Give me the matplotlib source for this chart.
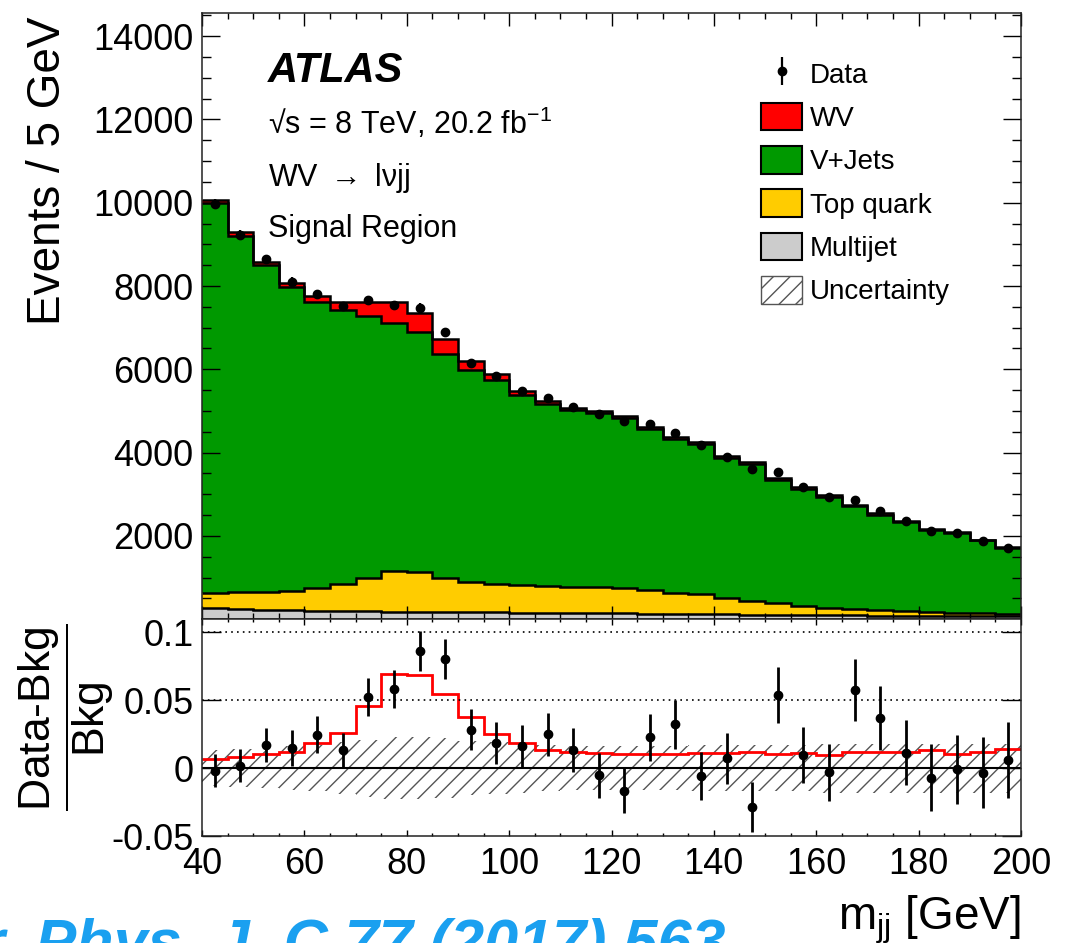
import matplotlib
matplotlib.use("Agg")
import matplotlib.pyplot as plt
import numpy as np
from matplotlib.patches import Patch
from matplotlib.ticker import MultipleLocator

plt.rcParams["font.family"] = ["Liberation Sans", "DejaVu Sans"]
plt.rcParams["mathtext.fontset"] = "custom"
plt.rcParams["mathtext.rm"] = "Liberation Sans"
plt.rcParams["mathtext.it"] = "Liberation Sans:italic"
plt.rcParams["mathtext.bf"] = "Liberation Sans:bold"
plt.rcParams["hatch.linewidth"] = 1.0

# m_jj bins, 5 GeV wide
edges = np.arange(40, 205, 5)

# total background (top of V+Jets) per bin
bkg = [9995, 9210, 8494, 7981, 7619, 7421, 7282, 7121, 6886, 6372, 5972, 5743,
       5380, 5179, 5017, 4945, 4829, 4574, 4334, 4202, 3872, 3719, 3347, 3137,
       2947, 2712, 2513, 2334, 2138, 2078, 1893, 1704]
top_quark = [373, 415, 437, 474, 539, 656, 806, 980, 960, 808, 716, 682, 663, 644,
             633, 622, 618, 574, 510, 474, 400, 332, 274, 221, 179, 150, 133, 113,
             83, 72, 66, 55]
multijet = [265, 240, 225, 212, 205, 198, 192, 186, 182, 176, 172, 165, 160, 155,
            150, 146, 142, 136, 130, 126, 120, 114, 110, 104, 100, 95, 90, 86, 82,
            78, 74, 70]

# ratio panel: (Data-Bkg)/Bkg, its error, WV/Bkg and bkg uncertainty
ratio_data = [-0.0018, 0.0019, 0.0169, 0.0149, 0.0247, 0.0130, 0.0527, 0.0585,
              0.0862, 0.0804, 0.0284, 0.0184, 0.0164, 0.0250, 0.0134, -0.0054,
              -0.0165, 0.0228, 0.0323, -0.0057, 0.0071, -0.0287, 0.0539, 0.0096,
              -0.0032, 0.0574, 0.0372, 0.0113, -0.0071, -0.0010, -0.0035, 0.0059]
ratio_err = [0.0119, 0.0120, 0.0127, 0.0132, 0.0135, 0.0125, 0.0140, 0.0140,
             0.0147, 0.0150, 0.0150, 0.0152, 0.0154, 0.0159, 0.0164, 0.0164,
             0.0165, 0.0172, 0.0179, 0.0179, 0.0186, 0.0186, 0.0206, 0.0208,
             0.0213, 0.0230, 0.0235, 0.0240, 0.0248, 0.0257, 0.0262, 0.0282]
ratio_wv = [0.0068, 0.0085, 0.0103, 0.0122, 0.0184, 0.0262, 0.0458, 0.0693,
            0.0686, 0.0546, 0.0380, 0.0250, 0.0184, 0.0130, 0.0122, 0.0110,
            0.0103, 0.0105, 0.0105, 0.0110, 0.0110, 0.0122, 0.0105, 0.0110,
            0.0098, 0.0122, 0.0115, 0.0122, 0.0135, 0.0105, 0.0115, 0.0140]
bkg_unc = [0.0135, 0.014, 0.015, 0.016, 0.017, 0.019, 0.021, 0.023, 0.023, 0.022,
           0.020, 0.019, 0.018, 0.017, 0.016, 0.016, 0.016, 0.016, 0.016, 0.017,
           0.017, 0.017, 0.017, 0.017, 0.018, 0.018, 0.018, 0.018, 0.018, 0.018,
           0.018, 0.018]

main_yticks = [2000, 4000, 6000, 8000, 10000, 12000, 14000]
ratio_yticks = [-0.05, 0, 0.05, 0.1]
ratio_ylabels = ["-0.05", "0", "0.05", "0.1"]
xticks = [40, 60, 80, 100, 120, 140, 160, 180, 200]

bkg = np.array(bkg, float)
mj = np.array(multijet, float)
top = np.array(top_quark, float)
wv = np.array(ratio_wv) * bkg
data = (1 + np.array(ratio_data)) * bkg
data_err = np.array(ratio_err) * bkg
centers = edges[:-1] + 2.5

green = "#009900"
yellow = "#FFCC00"
grey = "#CCCCCC"
red = "#FF0000"

W, H = 1066, 943
fig = plt.figure(figsize=(W / 100, H / 100), dpi=100)


def rect(l, t, r, b):
    return [l / W, 1 - b / H, (r - l) / W, (b - t) / H]


ax = fig.add_axes(rect(202, 12.7, 1021, 619.3))
rx = fig.add_axes(rect(202, 619.3, 1021, 836), sharex=ax)

# stacked histogram
lw = 1.8
ax.stairs(mj, edges, baseline=0, fill=True, color=grey)
ax.stairs(mj + top, edges, baseline=mj, fill=True, color=yellow)
ax.stairs(bkg, edges, baseline=mj + top, fill=True, color=green)
ax.stairs(bkg + wv, edges, baseline=bkg, fill=True, color=red)
for level in [mj, mj + top, bkg, bkg + wv]:
    ax.stairs(level, edges, baseline=None, color="k", lw=lw)

data_h = ax.errorbar(centers, data, yerr=data_err, fmt="o", color="k", ms=6,
                     lw=1.6, capsize=0)

ax.set_xlim(40, 200)
ax.set_ylim(0, 14560)
ax.set_yticks(main_yticks)
ax.yaxis.set_minor_locator(MultipleLocator(500))
ax.xaxis.set_minor_locator(MultipleLocator(5))
ax.tick_params(which="both", direction="in", top=True, right=True,
               labelbottom=False)
ax.tick_params(axis="y", which="major", length=13, width=1, labelsize=26, pad=6)
ax.tick_params(axis="y", which="minor", length=6.5, width=1)
ax.tick_params(axis="x", which="major", length=9.4, width=1)
ax.tick_params(axis="x", which="minor", length=4.3, width=1)
ax.set_ylabel("Events / 5 GeV", fontsize=33, va="center")
ax.yaxis.set_label_coords((48 - 202) / 819, (619.3 - 171) / 606.6)

# labels
ax.text(0.0806, 0.886, "ATLAS", transform=ax.transAxes, fontsize=30,
        fontweight="bold", fontstyle="italic", va="baseline")
ax.text(0.0806, 0.800, "\u221as = 8 TeV, 20.2 fb$^{-1}$", transform=ax.transAxes,
        fontsize=22, va="baseline")
ax.text(0.0806, 0.714, "WV $\\rightarrow$ l\u03bdjj", transform=ax.transAxes,
        fontsize=22, va="baseline")
ax.text(0.0806, 0.630, "Signal Region", transform=ax.transAxes,
        fontsize=22, va="baseline")

handles = [
    data_h,
    Patch(facecolor=red, edgecolor="k", lw=1.5),
    Patch(facecolor=green, edgecolor="k", lw=1.5),
    Patch(facecolor=yellow, edgecolor="k", lw=1.5),
    Patch(facecolor=grey, edgecolor="k", lw=1.5),
    Patch(facecolor="white", edgecolor="#555555", hatch="//", lw=1),
]
labels = ["Data", "WV", "V+Jets", "Top quark", "Multijet", "Uncertainty"]
ax.legend(handles, labels, loc="upper left", bbox_to_anchor=(0.683, 0.923),
          frameon=False, fontsize=20, handlelength=1.45, handleheight=1.15,
          labelspacing=0.51, handletextpad=0.3, borderpad=0, borderaxespad=0)

# ratio panel
unc = np.array(bkg_unc)
rx.fill_between(edges, np.append(-unc, -unc[-1]), np.append(unc, unc[-1]),
                step="post", facecolor="none", edgecolor="#555555", hatch="//",
                lw=0)
rx.axhline(0, color="k", lw=1.5)
for yv in [0.1, 0.05]:
    rx.axhline(yv, color="k", lw=1.2, ls=(0, (1, 2.5)))
rx.stairs(ratio_wv, edges, baseline=None, color=red, lw=2)
rx.errorbar(centers, ratio_data, yerr=ratio_err, fmt="o", color="k", ms=6,
            lw=2, capsize=0)

rx.set_ylim(-0.05, 0.1096)
rx.set_yticks(ratio_yticks, ratio_ylabels)
rx.set_xticks(xticks, [str(x) for x in xticks])
rx.tick_params(which="both", direction="in", top=True, right=True)
rx.tick_params(axis="y", which="major", length=14, width=1, labelsize=26, pad=6)
rx.tick_params(axis="x", which="major", length=4.3, width=1, labelsize=26, pad=8)
rx.tick_params(axis="x", which="minor", length=2.2, width=1)
rx.set_ylabel(r"$\dfrac{\text{Data-Bkg}}{\text{Bkg}}$", fontsize=32, va="center")
rx.yaxis.set_label_coords((66 - 202) / 819, (836 - 717) / 216.7)

for a in (ax, rx):
    for s in a.spines.values():
        s.set_linewidth(1.1)
        s.set_color("#222222")

fig.text(1021 / W, 1 - 929 / H, "m$_{\\mathrm{jj}}$ [GeV]", fontsize=33,
         ha="right", va="baseline")
fig.text(-97 / W, 1 - 962 / H, "Eur. Phys. J. C 77 (2017) 563", fontsize=44,
         fontweight="bold", fontstyle="italic", color="#1AA0F0", va="baseline")

fig.savefig("out.png", dpi=100)
